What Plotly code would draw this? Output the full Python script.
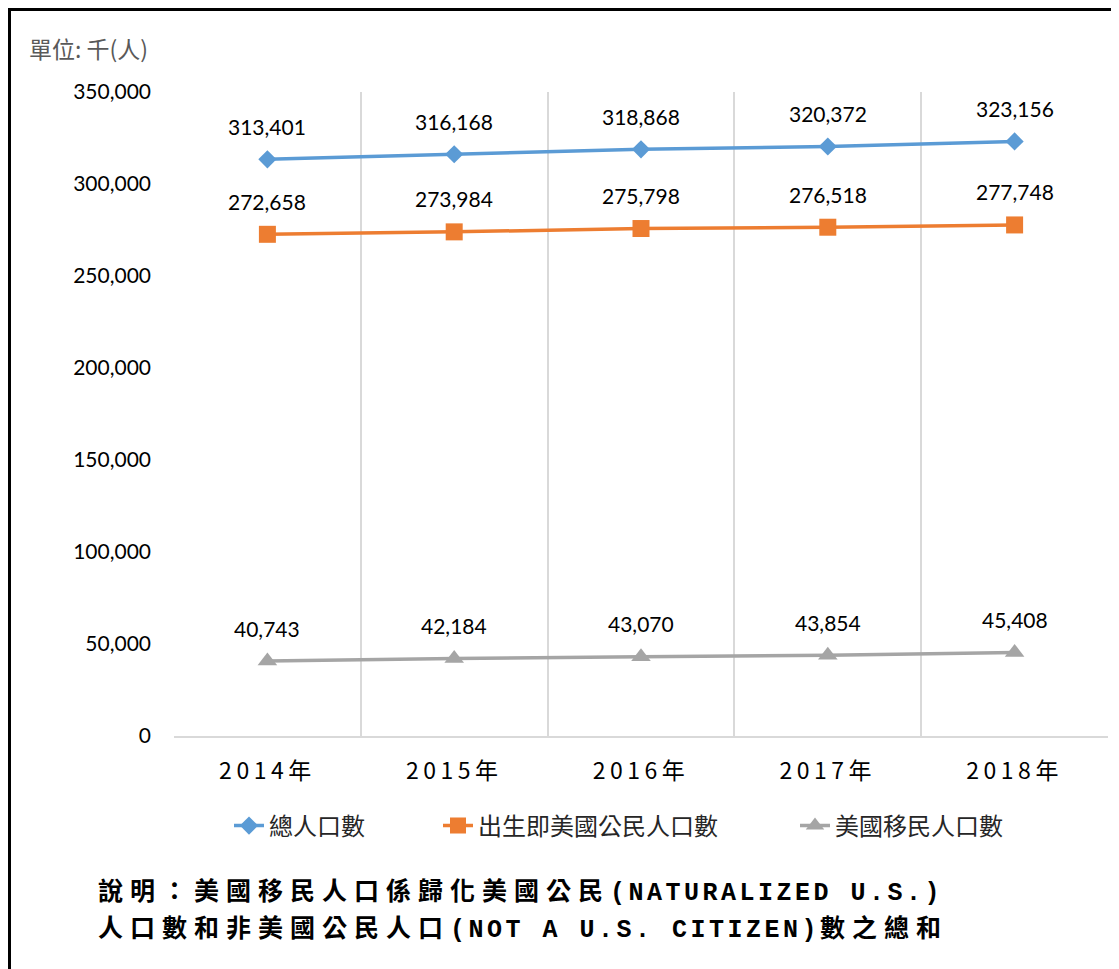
import plotly.graph_objects as go

years = ["2014年", "2015年", "2016年", "2017年", "2018年"]
total_pop = [313401, 316168, 318868, 320372, 323156]
native_citizens = [272658, 273984, 275798, 276518, 277748]
immigrants = [40743, 42184, 43070, 43854, 45408]
series_names = ["總人口數", "出生即美國公民人口數", "美國移民人口數"]
y_ticks = [0, 50000, 100000, 150000, 200000, 250000, 300000, 350000]

colors = ["#5B9BD5", "#ED7D31", "#A5A5A5"]
symbols = ["diamond", "square", "triangle-up"]
sizes = [14, 17, 17]
data = [total_pop, native_citizens, immigrants]
legend_ids = ["legend", "legend2", "legend3"]

# figure is drawn 8px inset by the page body margin; plot area in figure px
W, H = 1111, 961
PL, PR, PT, PB = 166, 1100, 84, 728
pw, ph = PR - PL, PB - PT


def px(xs):  # screen px (reference) -> paper x
    return (xs - 8 - PL) / pw


def py(ys):  # screen px (reference) -> paper y
    return (PB - (ys - 8)) / ph


fig = go.Figure()
for name, vals, c, s, sz, lg in zip(series_names, data, colors, symbols, sizes, legend_ids):
    fig.add_trace(go.Scatter(
        x=years, y=vals, name=name, mode="lines+markers",
        line=dict(color=c, width=3.5),
        marker=dict(symbol=s, size=sz, color=c),
        cliponaxis=False, legend=lg,
    ))
    for x, v in zip(years, vals):
        fig.add_annotation(x=x, y=v, text=f"{v:,}", showarrow=False,
                           yshift=33, font=dict(family="Lato", size=21, color="#000000"))

legend_font = dict(family="Noto Sans CJK TC", size=24, color="#262626")
legend_common = dict(orientation="h", yanchor="middle", xanchor="left", y=py(826),
                     font=legend_font, bgcolor="rgba(0,0,0,0)")

fig.update_layout(
    width=W, height=H,
    margin=dict(l=PL, r=W - PR, t=PT, b=H - PB),
    paper_bgcolor="white", plot_bgcolor="white",
    showlegend=True,
    legend=dict(x=px(229), **legend_common),
    legend2=dict(x=px(438), **legend_common),
    legend3=dict(x=px(795), **legend_common),
    xaxis=dict(
        type="category", range=[-0.5, 4.5], tickson="boundaries",
        tickvals=years,
        ticktext=[f'<span style="letter-spacing:4.5px">{y}</span>' for y in years],
        showgrid=True, gridcolor="#D9D9D9", gridwidth=1.5,
        showline=True, linecolor="#D9D9D9", linewidth=1.5,
        ticks="", ticklabelstandoff=14,
        tickfont=dict(family="Noto Sans CJK TC", size=23, color="#000000"),
    ),
    yaxis=dict(
        range=[0, 350000], tickvals=y_ticks, tickformat=",",
        showgrid=False, zeroline=False, showline=False, ticks="",
        ticklabelstandoff=22,
        tickfont=dict(family="Lato", size=21, color="#000000"),
    ),
)

fig.add_annotation(xref="paper", yref="paper", x=px(27), y=py(48),
                   xanchor="left", yanchor="middle", showarrow=False, text="單位: 千(人)",
                   font=dict(family="Noto Sans CJK TC", size=23, color="#595959"))

CJK = '<span style="letter-spacing:7px">{}</span>'
ASC = '<span style="font-family:Liberation Mono;letter-spacing:3.5px">{}</span>'
note1 = CJK.format("說明：美國移民人口係歸化美國公民") + ASC.format("(NATURALIZED U.S.)")
note2 = (CJK.format("人口數和非美國公民人口") + ASC.format("(NOT A U.S. CITIZEN)")
         + CJK.format("數之總和"))
for txt, ys in [(note1, 889), (note2, 926)]:
    fig.add_annotation(xref="paper", yref="paper", x=px(96), y=py(ys),
                       xanchor="left", yanchor="middle", showarrow=False, text=txt,
                       font=dict(family="Noto Sans CJK TC", size=25, color="#000000", weight="bold"))

fig.add_shape(type="rect", xref="paper", yref="paper",
              x0=(1.5 - PL) / pw, x1=1.2, y0=-0.6, y1=(PB - 1.5) / ph,
              line=dict(color="black", width=3), layer="above")

fig.write_html("out.html")
